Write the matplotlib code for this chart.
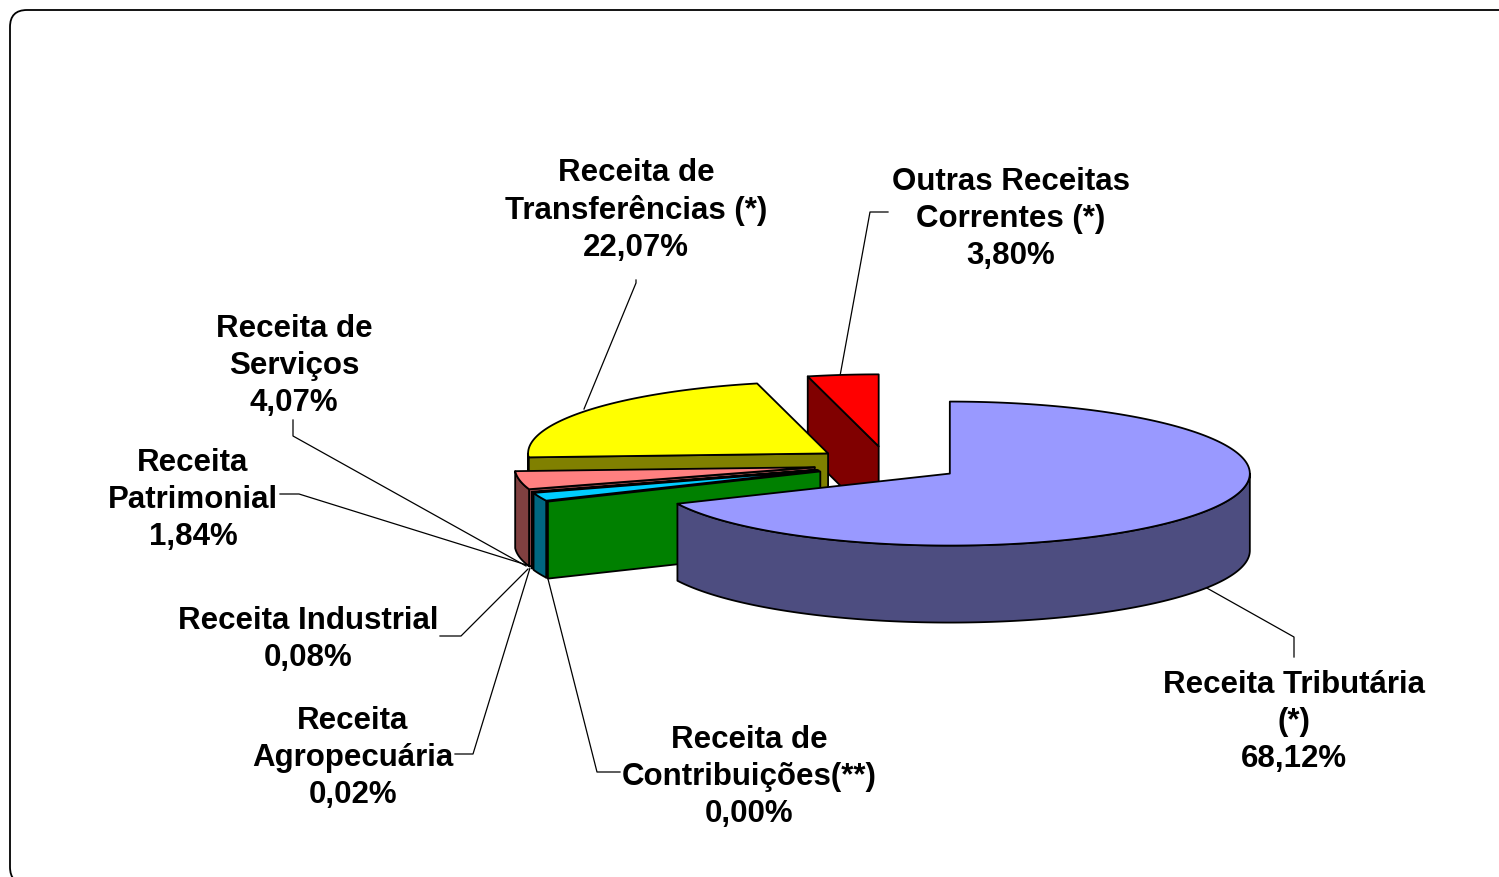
# -*- coding: utf-8 -*-
import numpy as np
import matplotlib
matplotlib.use('Agg')
import matplotlib.pyplot as plt
from matplotlib.patches import Polygon, FancyBboxPatch

plt.rcParams['font.family'] = ['Liberation Sans', 'DejaVu Sans']

# fatias, na ordem em que aparecem no sentido horario a partir do topo
names = ['Receita Tributária', 'Receita de Contribuições', 'Receita Patrimonial',
         'Receita Agropecuária', 'Receita Industrial', 'Receita de Serviços',
         'Receita de Transferências', 'Outras Receitas Correntes']
values = [68.12, 0.00, 1.84, 0.02, 0.08, 4.07, 22.07, 3.80]
top_colors = ['#9999FF', '#00FF00', '#00CCFF', '#993366', '#660066',
              '#FF8080', '#FFFF00', '#FF0000']
side_colors = ['#4D4D80', '#008000', '#006680', '#4D1A33', '#330033',
               '#804040', '#808000', '#800000']

# rotulos: texto, centro x, y da primeira linha
label_texts = ['Receita Tributária\n(*)\n68,12%', 'Receita de\nContribuições(**)\n0,00%',
               'Receita\nPatrimonial\n1,84%', 'Receita\nAgropecuária\n0,02%',
               'Receita Industrial\n0,08%', 'Receita de\nServiços\n4,07%',
               'Receita de\nTransferências (*)\n22,07%', 'Outras Receitas\nCorrentes (*)\n3,80%']
label_x = [1294, 749, 193, 353, 308, 294, 636, 1011]
label_y = [682, 737, 460, 718, 618, 326, 170, 179]

# linhas de chamada (pixels)
leaders = [
    [(1294, 657), (1294, 637), (1205, 587)],
    [(620, 772), (597, 772), (548, 579)],
    [(280, 494), (299, 494), (530, 566)],
    [(455, 754), (473, 754), (530, 568)],
    [(440, 636), (461, 636), (528, 569)],
    [(293, 420), (293, 436), (526, 566)],
    [(636, 280), (636, 283), (584, 409)],
    [(888, 212), (870, 212), (840, 376)],
]

cx, cy = 887.5, 464   # centro sem explosao
rx, ry = 300, 72
height = 77
explode = 74


def arc(ax_, ay_, t1, t2):
    t = np.radians(np.linspace(t1, t2, max(2, int(abs(t2 - t1) * 2) + 2)))
    return np.column_stack([ax_ + rx * np.sin(t), ay_ - ry * np.cos(t)])


fig = plt.figure(figsize=(14.99, 8.77), dpi=100)
ax = fig.add_axes([0, 0, 1, 1])
ax.set_xlim(0, 1499)
ax.set_ylim(877, 0)
ax.axis('off')

frame = FancyBboxPatch((10, 10), 1700, 874, boxstyle='round,pad=0,rounding_size=17',
                       fc='white', ec='black', lw=1.3, zorder=0)
ax.add_patch(frame)

angles = np.cumsum([0] + values) * 3.6

# ordem de pintura: de tras para a frente
paint_order = [7, 6, 5, 4, 3, 2, 1, 0]
z = 2
for i in paint_order:
    t1, t2 = angles[i], angles[i + 1]
    mid = np.radians((t1 + t2) / 2)
    ax_ = cx + explode * np.sin(mid)
    ay_ = cy - explode * np.cos(mid) * ry / rx
    # fatias muito finas ficam pretas com a linha normal
    line = dict(ec='black', lw=0.5 if 0 < values[i] < 0.5 else 1.3, joinstyle='round')
    # parede de corte
    if 180 < t1 < 360:
        p = arc(ax_, ay_, t1, t1)[0]
        wall = [(ax_, ay_), p, (p[0], p[1] + height), (ax_, ay_ + height)]
        ax.add_patch(Polygon(wall, fc=side_colors[i], zorder=z, **line))
        z += 1
    # lateral externa
    a, b = max(t1, 90), min(t2, 270)
    if b > a:
        upper = arc(ax_, ay_, a, b)
        lower = upper[::-1] + [0, height]
        ax.add_patch(Polygon(np.vstack([upper, lower]), fc=side_colors[i], zorder=z, **line))
        z += 1
    # topo
    if t2 > t1:
        pts = np.vstack([[(ax_, ay_)], arc(ax_, ay_, t1, t2)])
        ax.add_patch(Polygon(pts, fc=top_colors[i], zorder=z, **line))
        z += 1

for pts in leaders:
    xs, ys = zip(*pts)
    ax.plot(xs, ys, color='black', lw=0.9, zorder=1)

for txt, x, y in zip(label_texts, label_x, label_y):
    ax.text(x, y - 12, txt, ha='center', va='top', fontsize=22.5, fontweight='bold',
            linespacing=1.295, zorder=100)

fig.savefig('out.png', dpi=100)
